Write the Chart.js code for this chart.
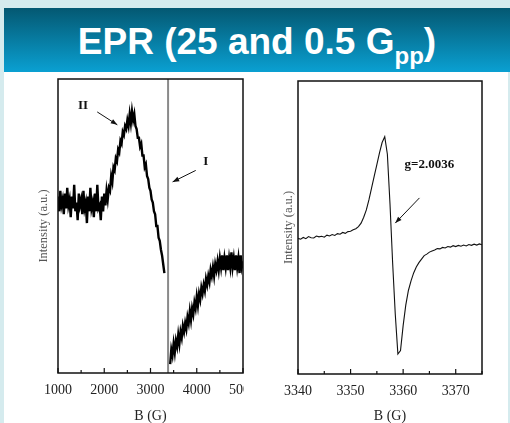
<!DOCTYPE html>
<html>
<head>
<meta charset="utf-8">
<script src="https://cdn.jsdelivr.net/npm/chart.js@4.4.0/dist/chart.umd.min.js"></script>
<style>
  html, body { margin: 0; padding: 0; }
  body { width: 510px; height: 423px; background: #d5ebee; position: relative; overflow: hidden; }
  #bar { position: absolute; left: 4px; top: 8px; width: 506px; height: 64px;
         background: linear-gradient(#045872, #0aa0d2); color: #fff; text-align: center;
         font: bold 37px 'Liberation Sans', Arial, sans-serif; line-height: 68px; }
  #bar sub { font-size: 24px; vertical-align: -10px; line-height: 0; }
  #page { position: absolute; left: 4px; top: 72px; width: 504px; height: 351px; background: #fff; }
  #wrapL { position: absolute; left: 0; top: 72px; width: 244px; height: 351px; overflow: hidden; }
  #wrapR { position: absolute; left: 255px; top: 72px; width: 255px; height: 351px; }
</style>
</head>
<body>
<div id="bar">EPR (25 and 0.5 G<sub>pp</sub>)</div>
<div id="page"></div>
<div id="wrapL"><canvas id="left" width="270" height="351"></canvas></div>
<div id="wrapR"><canvas id="right" width="255" height="351"></canvas></div>
<script>
// wide scan (25 G spectrum), field step 25 G
const wideStart = 1000;
const wideStep = 25;
const wideBroad = [60, 55, 62, 57, 59, 54, 61, 56, 63, 57, 59, 53, 60, 56, 64, 55, 58, 52, 61, 57,
  59, 54, 62, 56, 58, 51, 60, 55, 63, 56, 58, 53, 61, 55, 64, 56, 57, 52, 60, 55,
  61, 57, 62, 59, 63, 62, 67, 65, 70, 69, 73, 72, 76, 75, 79, 78, 82, 81, 84, 83,
  86, 84, 88, 85, 89, 86, 88, 84, 83, 80, 80, 77, 78, 74, 74, 70, 71, 67, 66, 63,
  62, 59, 58, 55, 54, 50, 50, 46, 45, 42, 40, 37, 34];
const wideHighStart = 3425;
const wideHigh = [3, 8, 6, 10, 7, 11, 9, 13, 10, 14, 12, 16, 14, 17, 15, 19, 17, 21, 18, 22,
  20, 24, 22, 26, 23, 27, 25, 29, 27, 30, 28, 32, 30, 33, 31, 35, 33, 36, 33, 37,
  35, 38, 35, 39, 36, 40, 35, 39, 36, 40, 35, 39, 36, 41, 36, 39, 35, 40, 36, 39,
  34, 40, 36, 38];
const narrowField = 3380;

// narrow scan (0.5 G spectrum), field step 0.5 G
const narStart = 3340;
const narStep = 0.5;
const narValues = [46.3, 46.0, 46.6, 46.2, 46.9, 46.5, 46.4, 47.1, 46.8, 47.0,
  46.7, 47.4, 47.1, 47.6, 47.3, 47.9, 47.7, 48.3, 48.0, 48.6,
  48.7, 49.2, 49.6, 50.3, 51.5, 53.5, 56.0, 59.5, 63.5, 67.5,
  71.5, 75.5, 79.0, 81.0, 75.0, 58.0, 38.0, 20.5, 6.8, 8.0,
  16.5, 23.5, 28.5, 31.8, 34.5, 36.5, 38.0, 39.2, 40.4, 40.9,
  41.6, 42.0, 42.3, 42.8, 42.7, 43.2, 43.0, 43.5, 43.3, 43.8,
  43.5, 43.9, 43.6, 44.0, 43.7, 44.2, 43.9, 44.3, 44.0, 44.4, 44.1];

function toPoints(start, step, vals) {
  return vals.map((v, i) => ({ x: start + i * step, y: v }));
}

const serif = 'Liberation Serif';

const frame = {
  id: 'frame',
  afterDraw(chart, args, opts) {
    const { ctx, chartArea: a, scales: { x, y } } = chart;
    ctx.save();
    ctx.strokeStyle = '#111';
    ctx.lineWidth = 1.5;
    ctx.strokeRect(a.left, a.top, a.right - a.left, a.bottom - a.top);
    // ticks pointing inward on the bottom axis
    ctx.lineWidth = 1.2;
    const n = Math.round((x.max - x.min) / opts.minor);
    for (let i = 0; i <= n; i++) {
      const v = x.min + i * opts.minor;
      const px = x.getPixelForValue(v);
      const len = (i * opts.minor) % opts.major === 0 ? 5 : 3;
      ctx.beginPath();
      ctx.moveTo(px, a.bottom);
      ctx.lineTo(px, a.bottom - len);
      ctx.stroke();
    }
    ctx.fillStyle = '#111';
    ctx.font = 'bold 13px ' + serif;
    ctx.textAlign = 'center';
    ctx.textBaseline = 'middle';
    opts.notes.forEach(t => ctx.fillText(t.text, x.getPixelForValue(t.x), y.getPixelForValue(t.y)));
    opts.arrows.forEach(r => {
      const x0 = x.getPixelForValue(r.x0), y0 = y.getPixelForValue(r.y0);
      const x1 = x.getPixelForValue(r.x1), y1 = y.getPixelForValue(r.y1);
      const ang = Math.atan2(y1 - y0, x1 - x0);
      ctx.lineWidth = 1;
      ctx.beginPath();
      ctx.moveTo(x0, y0);
      ctx.lineTo(x1, y1);
      ctx.stroke();
      ctx.beginPath();
      ctx.moveTo(x1, y1);
      ctx.lineTo(x1 - 7 * Math.cos(ang - 0.35), y1 - 7 * Math.sin(ang - 0.35));
      ctx.lineTo(x1 - 7 * Math.cos(ang + 0.35), y1 - 7 * Math.sin(ang + 0.35));
      ctx.closePath();
      ctx.fill();
    });
    ctx.restore();
  }
};

function options(cfg) {
  return {
    responsive: false,
    animation: false,
    layout: { padding: cfg.padding },
    elements: { point: { radius: 0 }, line: { tension: 0 } },
    plugins: {
      legend: { display: false },
      tooltip: { enabled: false },
      frame: cfg.frame
    },
    scales: {
      x: {
        type: 'linear', min: cfg.xMin, max: cfg.xMax,
        ticks: { stepSize: cfg.frame.major, includeBounds: false, autoSkip: false, maxRotation: 0,
                 format: { useGrouping: false },
                 padding: 9, color: '#222', font: { family: serif, size: 14 } },
        grid: { display: false, drawTicks: false },
        border: { display: false },
        title: { display: true, text: 'B (G)', color: '#222', font: { family: serif, size: 14, lineHeight: 1 },
                 padding: { top: 0, bottom: 0 } },
        afterFit(s) { s.height = cfg.xH; }
      },
      y: {
        min: 0, max: 100,
        ticks: { display: false },
        grid: { display: false },
        border: { display: false },
        title: { display: true, text: 'Intensity (a.u.)', color: '#555', font: { family: serif, size: 12.5 },
                 padding: { top: cfg.yTitlePad, bottom: 0 } },
        afterFit(s) { s.width = cfg.yW; }
      }
    }
  };
}

new Chart(document.getElementById('left'), {
  type: 'scatter',
  data: {
    datasets: [
      { data: [{ x: narrowField, y: 0 }, { x: narrowField, y: 100 }], showLine: true,
        borderColor: '#8a8a8a', borderWidth: 2 },
      { data: toPoints(wideStart, wideStep, wideBroad), showLine: true, borderColor: '#000', borderWidth: 2.4 },
      { data: toPoints(wideHighStart, wideStep, wideHigh), showLine: true, borderColor: '#000', borderWidth: 2.4 }
    ]
  },
  options: options({
    xMin: 1000, xMax: 5000, xH: 50, yW: 58, yTitlePad: 36,
    padding: { top: 7, right: 27, left: 0, bottom: 0 },
    frame: {
      major: 1000, minor: 500,
      notes: [{ text: 'II', x: 1543, y: 90.8 }, { text: 'I', x: 4196, y: 71.8 }],
      arrows: [{ x0: 1848, y0: 88.8, x1: 2283, y1: 84.4 }, { x0: 3978, y0: 68.9, x1: 3478, y1: 65 }]
    }
  }),
  plugins: [frame]
});

new Chart(document.getElementById('right'), {
  type: 'scatter',
  data: {
    datasets: [
      { data: toPoints(narStart, narStep, narValues), showLine: true, borderColor: '#111', borderWidth: 1.1 }
    ]
  },
  options: options({
    xMin: 3340, xMax: 3375, xH: 49, yW: 43, yTitlePad: 26,
    padding: { top: 9, right: 28, left: 0, bottom: 0 },
    frame: {
      major: 10, minor: 5,
      notes: [{ text: 'g=2.0036', x: 3365, y: 71.3 }],
      arrows: [{ x0: 3363.1, y0: 60.1, x1: 3358.5, y1: 51.5 }]
    }
  }),
  plugins: [frame]
});
</script>
</body>
</html>
